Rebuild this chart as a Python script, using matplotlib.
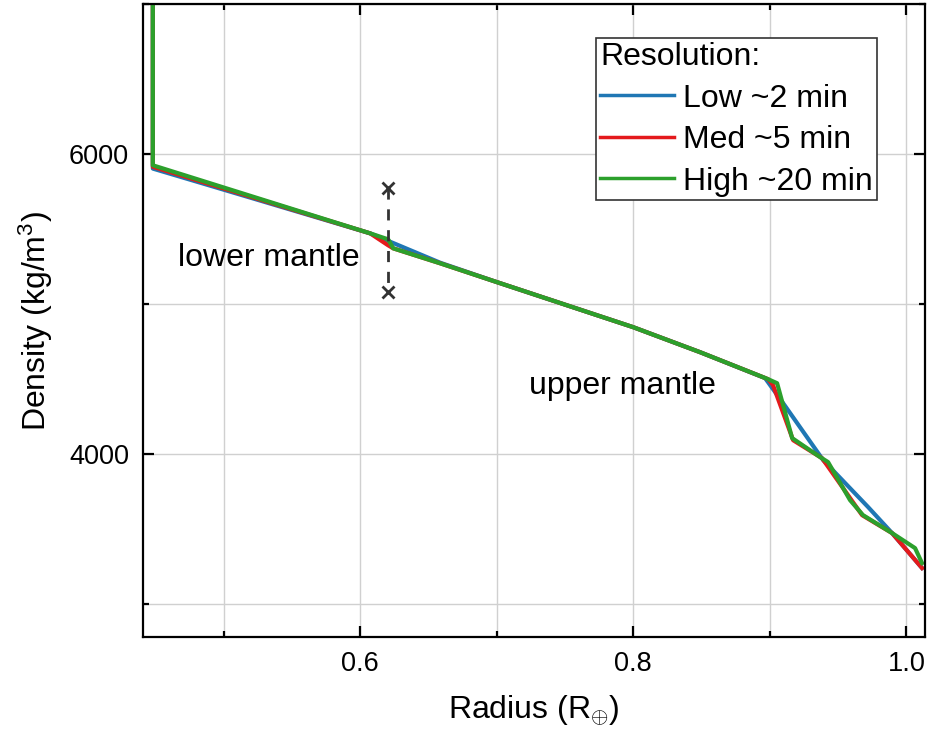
import matplotlib.pyplot as plt
from matplotlib.ticker import MultipleLocator

plt.rcParams['font.family'] = ['Liberation Sans', 'DejaVu Sans']
plt.rcParams['mathtext.fontset'] = 'custom'
plt.rcParams['mathtext.rm'] = 'Liberation Sans'
plt.rcParams['mathtext.it'] = 'Liberation Sans:italic'

# radius (R_earth) and density (kg/m^3) for each resolution
r_low = [0.4482, 0.4482, 0.6073, 0.6586, 0.7003, 0.7999, 0.8489, 0.8965,
         0.9097, 0.9390, 0.9719, 0.9895, 1.0114]
rho_low = [7200, 5905, 5473, 5277, 5147, 4847, 4680, 4507,
           4340, 3960, 3647, 3473, 3240]

r_med = [0.4482, 0.4482, 0.6073, 0.6205, 0.6242, 0.6586, 0.7003, 0.7999,
         0.8489, 0.8987, 0.9023, 0.9170, 0.9382, 0.9675, 0.9895, 1.0114]
rho_med = [7200, 5917, 5473, 5393, 5373, 5273, 5147, 4847,
           4680, 4500, 4460, 4093, 3973, 3593, 3473, 3240]

r_high = [0.4482, 0.4482, 0.6073, 0.6205, 0.6242, 0.6586, 0.7003, 0.7999,
          0.8489, 0.8987, 0.9053, 0.9163, 0.9368, 0.9426, 0.9587, 0.9682,
          0.9895, 1.0063, 1.0114]
rho_high = [7200, 5927, 5473, 5433, 5373, 5273, 5147, 4847,
            4680, 4500, 4473, 4107, 3980, 3947, 3693, 3593,
            3473, 3373, 3273]

# transition marker
r_mark = [0.6205, 0.6205]
rho_mark = [5773, 5080]

fig = plt.figure(figsize=(9.28, 7.32), dpi=100)
ax = fig.add_axes([0.1541, 0.1298, 0.8427, 0.8641])

ax.plot(r_low, rho_low, color='#1f77b4', lw=3, label='Low ~2 min')
ax.plot(r_med, rho_med, color='#e41a1c', lw=3, label='Med ~5 min')
ax.plot(r_high, rho_high, color='#2ca02c', lw=3, label='High ~20 min')
ax.plot(r_mark, rho_mark, color='#333333', lw=2, ls=(0, (4, 3.5)),
        marker='x', ms=9, mew=2)

ax.text(0.4668, 5307, 'lower mantle', fontsize=23, ha='left', va='center')
ax.text(0.7237, 4453, 'upper mantle', fontsize=23, ha='left', va='center')

ax.set_xlim(0.441, 1.0136)
ax.set_ylim(2780, 7000)
ax.xaxis.set_major_locator(MultipleLocator(0.2))
ax.xaxis.set_minor_locator(MultipleLocator(0.1))
ax.yaxis.set_major_locator(MultipleLocator(2000))
ax.yaxis.set_minor_locator(MultipleLocator(1000))

ax.grid(True, which='both', color='#d0d0d0', lw=1)
ax.set_axisbelow(True)
ax.tick_params(which='both', direction='in', top=True, right=True,
               width=1.6, labelsize=19.5)
ax.tick_params(which='major', length=8, pad=10)
ax.tick_params(which='minor', length=4)
for s in ax.spines.values():
    s.set_linewidth(1.6)

ax.set_xlabel(r'Radius (R$_{\oplus}$)', fontsize=23, labelpad=12)
ax.set_ylabel(r'Density (kg/m$^3$)', fontsize=23, labelpad=10)

leg = ax.legend(title='Resolution:', fontsize=23, title_fontsize=23,
                loc='upper right', bbox_to_anchor=(0.9385, 0.9465),
                fancybox=False, framealpha=1, edgecolor='#333333',
                handlelength=2.3, handletextpad=0.3, borderpad=0.12,
                labelspacing=0.36, borderaxespad=0)
leg._legend_box.align = 'left'
leg.get_frame().set_linewidth(1.2)
for h in leg.get_lines():
    h.set_linewidth(2.5)

fig.savefig('out.png', dpi=100)
